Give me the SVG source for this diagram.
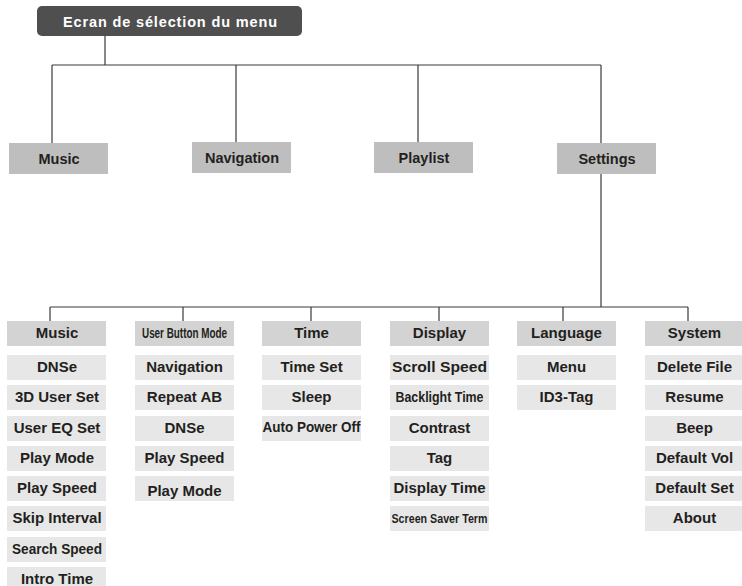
<svg xmlns="http://www.w3.org/2000/svg" width="742" height="586" viewBox="0 0 742 586">
<style>
text{font-family:"Liberation Sans",Arial,sans-serif;font-weight:bold;fill:#231f20;text-anchor:middle}
.t{fill:#fff;font-size:14.5px}
.l1 rect{fill:#bebebe}
.l1 text{font-size:14.5px}
.h rect{fill:#d3d3d3}
.i rect{fill:#e7e7e7}
.h text,.i text{font-size:15px}
.c{stroke:#3a3a3a;stroke-width:1.2;fill:none}
</style>
<rect width="742" height="586" fill="#fff"/>
<g id="connectors" class="c">
<path d="M105 36V65M52 65H601M52 65V143M236 65V142M418 65V142M601 65V143"/>
<path d="M601 174V307M50 307H688M50 307V321M183 307V321M311 307V321M439 307V321M563 307V321M688 307V321"/>
</g>
<g id="root"><rect x="37" y="6" width="265" height="30" rx="5" fill="#4f4f4f"/><text class="t" x="170" y="27" textLength="214" lengthAdjust="spacing">Ecran de sélection du menu</text></g>
<g id="l1-music" class="l1"><rect x="9" y="143" width="99" height="31"/><text x="59" y="164">Music</text></g>
<g id="l1-navigation" class="l1"><rect x="192" y="142" width="99" height="31"/><text x="242" y="163">Navigation</text></g>
<g id="l1-playlist" class="l1"><rect x="374" y="142" width="99" height="31"/><text x="424" y="163">Playlist</text></g>
<g id="l1-settings" class="l1"><rect x="557" y="143" width="99" height="31"/><text x="607" y="164">Settings</text></g>

<g id="h-music" class="h"><rect x="7" y="321" width="99" height="25"/><text x="57" y="338">Music</text></g>
<g id="h-ubm" class="h"><rect x="135" y="321" width="99" height="25"/><text x="184.5" y="338" textLength="85" lengthAdjust="spacingAndGlyphs" style="font-size:14px">User Button Mode</text></g>
<g id="h-time" class="h"><rect x="262" y="321" width="99" height="25"/><text x="311.5" y="338">Time</text></g>
<g id="h-display" class="h"><rect x="390" y="321" width="99" height="25"/><text x="439.5" y="338">Display</text></g>
<g id="h-language" class="h"><rect x="517" y="321" width="99" height="25"/><text x="566.5" y="338">Language</text></g>
<g id="h-system" class="h"><rect x="645" y="321" width="99" height="25"/><text x="694.5" y="338">System</text></g>

<g id="music-dnse" class="i"><rect x="7" y="355" width="99" height="25"/><text x="57" y="372">DNSe</text></g>
<g id="music-3d" class="i"><rect x="7" y="385" width="99" height="25"/><text x="57" y="402">3D User Set</text></g>
<g id="music-eq" class="i"><rect x="7" y="416" width="99" height="25"/><text x="57" y="433">User EQ Set</text></g>
<g id="music-playmode" class="i"><rect x="7" y="446" width="99" height="25"/><text x="57" y="463">Play Mode</text></g>
<g id="music-playspeed" class="i"><rect x="7" y="476" width="99" height="25"/><text x="57" y="493">Play Speed</text></g>
<g id="music-skip" class="i"><rect x="7" y="506" width="99" height="25"/><text x="57" y="523">Skip Interval</text></g>
<g id="music-search" class="i"><rect x="7" y="537" width="99" height="25"/><text x="57" y="554" textLength="90" lengthAdjust="spacingAndGlyphs">Search Speed</text></g>
<g id="music-intro" class="i"><rect x="7" y="567" width="99" height="25"/><text x="57" y="584">Intro Time</text></g>

<g id="ubm-nav" class="i"><rect x="135" y="355" width="99" height="25"/><text x="184.5" y="372">Navigation</text></g>
<g id="ubm-repeat" class="i"><rect x="135" y="385" width="99" height="25"/><text x="184.5" y="402">Repeat AB</text></g>
<g id="ubm-dnse" class="i"><rect x="135" y="416" width="99" height="25"/><text x="184.5" y="433">DNSe</text></g>
<g id="ubm-playspeed" class="i"><rect x="135" y="446" width="99" height="25"/><text x="184.5" y="463">Play Speed</text></g>
<g id="ubm-playmode" class="i"><rect x="135" y="476" width="99" height="25"/><text x="184.5" y="496">Play Mode</text></g>

<g id="time-set" class="i"><rect x="262" y="355" width="99" height="25"/><text x="311.5" y="372">Time Set</text></g>
<g id="time-sleep" class="i"><rect x="262" y="385" width="99" height="25"/><text x="311.5" y="402">Sleep</text></g>
<g id="time-apo" class="i"><rect x="262" y="416" width="99" height="25"/><text x="311.5" y="432" textLength="98" lengthAdjust="spacingAndGlyphs">Auto Power Off</text></g>

<g id="disp-scroll" class="i"><rect x="390" y="355" width="99" height="25"/><text x="439.5" y="372" textLength="95" lengthAdjust="spacingAndGlyphs">Scroll Speed</text></g>
<g id="disp-backlight" class="i"><rect x="390" y="385" width="99" height="25"/><text x="439.5" y="402" textLength="88" lengthAdjust="spacingAndGlyphs" style="font-size:14px">Backlight Time</text></g>
<g id="disp-contrast" class="i"><rect x="390" y="416" width="99" height="25"/><text x="439.5" y="433">Contrast</text></g>
<g id="disp-tag" class="i"><rect x="390" y="446" width="99" height="25"/><text x="439.5" y="463">Tag</text></g>
<g id="disp-time" class="i"><rect x="390" y="476" width="99" height="25"/><text x="439.5" y="493" textLength="92" lengthAdjust="spacingAndGlyphs">Display Time</text></g>
<g id="disp-saver" class="i"><rect x="390" y="506" width="99" height="25"/><text x="439.5" y="523" textLength="96" lengthAdjust="spacingAndGlyphs" style="font-size:13px">Screen Saver Term</text></g>

<g id="lang-menu" class="i"><rect x="517" y="355" width="99" height="25"/><text x="566.5" y="372">Menu</text></g>
<g id="lang-id3" class="i"><rect x="517" y="385" width="99" height="25"/><text x="566.5" y="402">ID3-Tag</text></g>

<g id="sys-delete" class="i"><rect x="645" y="355" width="99" height="25"/><text x="694.5" y="372">Delete File</text></g>
<g id="sys-resume" class="i"><rect x="645" y="385" width="99" height="25"/><text x="694.5" y="402">Resume</text></g>
<g id="sys-beep" class="i"><rect x="645" y="416" width="99" height="25"/><text x="694.5" y="433">Beep</text></g>
<g id="sys-vol" class="i"><rect x="645" y="446" width="99" height="25"/><text x="694.5" y="463">Default Vol</text></g>
<g id="sys-set" class="i"><rect x="645" y="476" width="99" height="25"/><text x="694.5" y="493">Default Set</text></g>
<g id="sys-about" class="i"><rect x="645" y="506" width="99" height="25"/><text x="694.5" y="523">About</text></g>
</svg>
